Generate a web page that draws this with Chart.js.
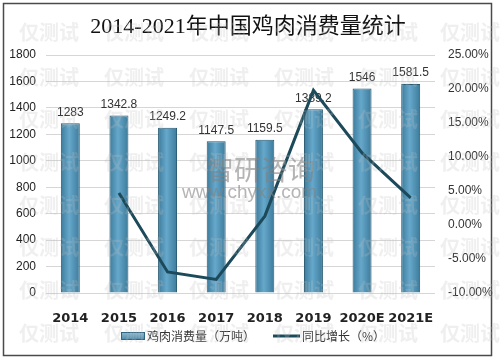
<!DOCTYPE html>
<html>
<head>
<meta charset="utf-8">
<script src="https://cdn.jsdelivr.net/npm/chart.js@4"></script>
<style>
  html, body { margin: 0; padding: 0; background: #fff; }
  #wrap { width: 500px; height: 361px; position: relative; }
</style>
</head>
<body>
<div id="wrap"><canvas id="chart" width="500" height="361"></canvas></div>
<script>
"use strict";

// data
const years = ["2014", "2015", "2016", "2017", "2018", "2019", "2020E", "2021E"];
const consumption = [1283, 1342.8, 1249.2, 1147.5, 1159.5, 1389.2, 1546, 1581.5];
const consumptionLabels = ["1283", "1342.8", "1249.2", "1147.5", "1159.5", "1389.2", "1546", "1581.5"];
const growth = [null, 4.7, -6.9, -8.0, 1.3, 19.8, 10.6, 4.0];
const leftTicks = [0, 200, 400, 600, 800, 1000, 1200, 1400, 1600, 1800];
const rightTicks = [-10, -5, 0, 5, 10, 15, 20, 25];

const TITLE = "2014-2021年中国鸡肉消费量统计";
const LEGEND_BAR = "鸡肉消费量（万吨）";
const LEGEND_LINE = "同比增长（%）";
const WATERMARK = "仅测试";

const BAR_EDGE = "#3a7898";
const BAR_MID = "#66a8cb";
const LINE_COLOR = "#1c4a5a";

function barGradient(context) {
  const chart = context.chart;
  if (!chart.chartArea || context.dataIndex == null) return BAR_MID;
  const x = chart.scales.x.getPixelForValue(context.dataIndex);
  const g = chart.ctx.createLinearGradient(x - 10, 0, x + 10, 0);
  g.addColorStop(0, BAR_EDGE);
  g.addColorStop(0.45, BAR_MID);
  g.addColorStop(1, BAR_EDGE);
  return g;
}

// --------------------------------------------------------------------- //
// Decorations: frame, title, bar labels, legend, watermark              //
// --------------------------------------------------------------------- //

const decor = {
  id: "decor",
  beforeDraw(chart) {
    const ctx = chart.ctx;
    ctx.save();
    ctx.fillStyle = "#fff";
    ctx.fillRect(0, 0, chart.width, chart.height);
    ctx.strokeStyle = "#4a4a4a";
    ctx.lineWidth = 1.5;
    ctx.strokeRect(3.5, 3.5, 488, 352);
    ctx.fillStyle = "#111";
    ctx.font = '22px "Liberation Serif", "Noto Sans CJK SC", serif';
    ctx.textAlign = "center";
    ctx.textBaseline = "middle";
    ctx.fillText(TITLE, 248, 27);
    ctx.restore();
  },
  afterDatasetDraw(chart, args) {
    if (args.index !== 0) return;
    const ctx = chart.ctx;
    const meta = chart.getDatasetMeta(0);
    ctx.save();
    ctx.fillStyle = "#333";
    ctx.font = '12px "Liberation Sans", "Noto Sans", sans-serif';
    ctx.textAlign = "center";
    ctx.textBaseline = "bottom";
    meta.data.forEach((bar, i) => {
      ctx.fillText(consumptionLabels[i], bar.x, bar.y - 5);
    });
    ctx.restore();
  },
  afterDraw(chart) {
    const ctx = chart.ctx;
    ctx.save();
    // legend
    ctx.textBaseline = "middle";
    ctx.textAlign = "left";
    const lg = ctx.createLinearGradient(0, 331, 0, 340);
    lg.addColorStop(0, "#9cc2d6");
    lg.addColorStop(1, "#4a86a6");
    ctx.fillStyle = lg;
    ctx.fillRect(121, 332, 24, 8);
    ctx.strokeStyle = "#2f6480";
    ctx.lineWidth = 1;
    ctx.strokeRect(121.5, 332.5, 23, 7);
    ctx.fillStyle = "#333";
    ctx.font = '12px "Noto Sans CJK SC", sans-serif';
    ctx.fillText(LEGEND_BAR, 147, 336);
    ctx.strokeStyle = LINE_COLOR;
    ctx.lineWidth = 3;
    ctx.beginPath();
    ctx.moveTo(273, 336);
    ctx.lineTo(300, 336);
    ctx.stroke();
    ctx.fillText(LEGEND_LINE, 302, 336);

    // "智研咨询" logo text
    ctx.textAlign = "left";
    ctx.fillStyle = "rgba(130,130,130,0.6)";
    ctx.font = '27px "Noto Sans CJK SC", sans-serif';
    ctx.fillText("智研咨询", 207, 170);
    ctx.font = '19px "Liberation Sans", sans-serif';
    ctx.fillText("www.chyxx.com", 182, 193);

    // faint repeated watermark
    ctx.textAlign = "center";
    ctx.fillStyle = "rgba(190,190,190,0.25)";
    ctx.font = 'bold 20px "Noto Sans CJK SC", sans-serif';
    const cols = [49, 134, 219, 304, 388, 470];
    const rows = [32, 77, 119, 162, 205, 247, 290, 333];
    rows.forEach((y) => cols.forEach((x) => ctx.fillText(WATERMARK, x, y)));
    ctx.restore();
  },
};

const ctx = document.getElementById("chart").getContext("2d");
new Chart(ctx, {
  type: "bar",
  data: {
    labels: years,
    datasets: [
      {
        type: "bar",
        label: LEGEND_BAR,
        data: consumption,
        yAxisID: "y",
        backgroundColor: barGradient,
        borderColor: "#245870",
        borderWidth: 1,
        barPercentage: 0.39,
        categoryPercentage: 1,
        order: 1,
      },
      {
        type: "line",
        label: LEGEND_LINE,
        data: growth,
        yAxisID: "y1",
        borderColor: LINE_COLOR,
        borderWidth: 3,
        pointRadius: 0,
        tension: 0,
        spanGaps: false,
        order: 0,
      },
    ],
  },
  options: {
    responsive: false,
    animation: false,
    layout: { padding: { top: 55, bottom: 38, left: 3, right: 7 } },
    plugins: { legend: { display: false }, title: { display: false }, tooltip: { enabled: false } },
    scales: {
      x: {
        grid: { display: false },
        border: { display: false },
        ticks: {
          color: "#222",
          font: { family: '"DejaVu Sans", sans-serif', size: 13, weight: "bold" },
          padding: 10,
          maxRotation: 0,
          minRotation: 0,
          autoSkip: false,
        },
        afterFit: (s) => { s.height = 30; },
      },
      y: {
        position: "left",
        min: 0,
        max: 1800,
        afterBuildTicks: (s) => { s.ticks = leftTicks.map((v) => ({ value: v })); },
        grid: { color: "#d6d6d6", drawTicks: false },
        border: { display: false },
        ticks: {
          color: "#222",
          font: { family: '"Liberation Sans", sans-serif', size: 12 },
          padding: 10,
          callback: (v) => String(v),
        },
        afterFit: (s) => { s.width = 43; },
      },
      y1: {
        position: "right",
        min: -10,
        max: 25,
        afterBuildTicks: (s) => { s.ticks = rightTicks.map((v) => ({ value: v })); },
        grid: { display: false, drawTicks: false },
        border: { display: false },
        ticks: {
          color: "#333",
          font: { family: '"Liberation Sans", sans-serif', size: 12 },
          padding: 13,
          callback: (v) => v.toFixed(2) + "%",
        },
        afterFit: (s) => { s.width = 58; },
      },
    },
  },
  plugins: [decor],
});
</script>
</body>
</html>
